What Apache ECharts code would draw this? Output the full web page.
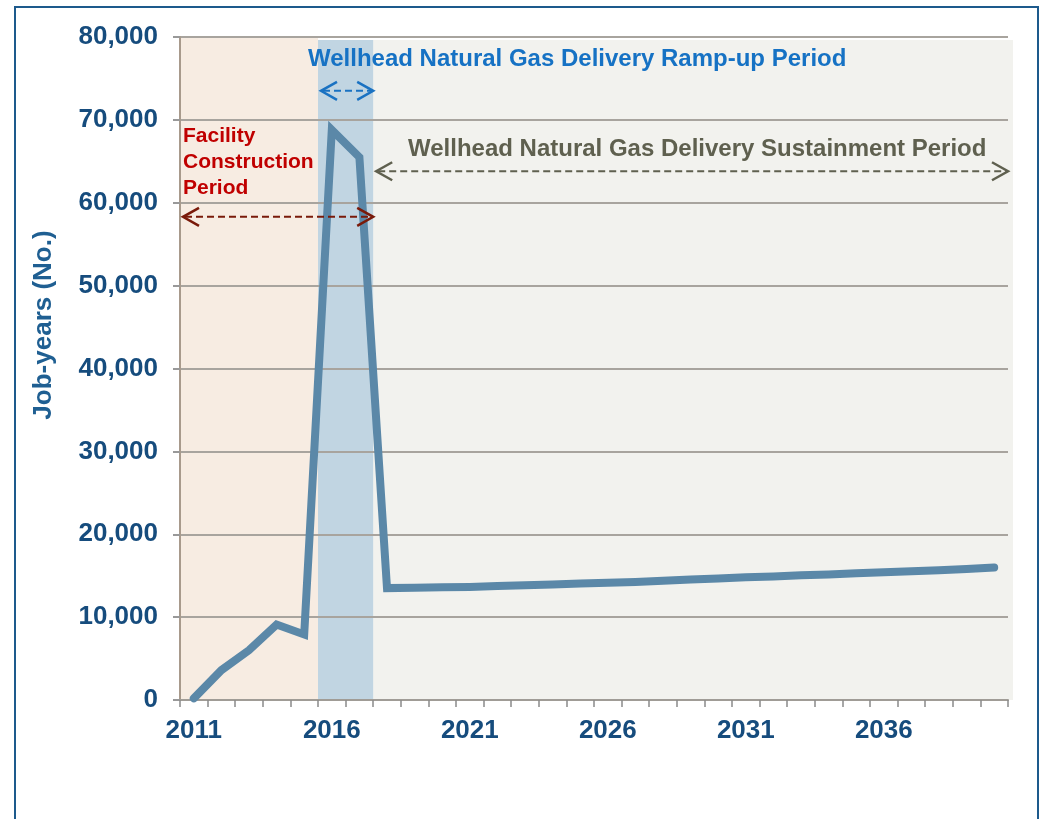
<!DOCTYPE html>
<html><head><meta charset="utf-8">
<script src="https://cdn.jsdelivr.net/npm/echarts@6/dist/echarts.min.js"></script>
<style>
html,body{margin:0;padding:0;background:#fff;}
#frame{position:absolute;left:14px;top:6px;width:1025px;height:840px;border:2px solid #1d5a8c;box-sizing:border-box;}
#chart{position:absolute;left:0;top:0;width:1040px;height:819px;}
</style>
</head><body>
<div id="frame"></div>
<div id="chart"></div>
<script>
const years = ['2011','2012','2013','2014','2015','2016','2017','2018','2019','2020',
  '2021','2022','2023','2024','2025','2026','2027','2028','2029','2030',
  '2031','2032','2033','2034','2035','2036','2037','2038','2039','2040'];
const jobYears = [200, 3600, 6000, 9100, 7900, 68800, 65500, 13500, 13550, 13600,
  13650, 13750, 13850, 13950, 14050, 14150, 14250, 14400, 14550, 14650,
  14800, 14900, 15050, 15150, 15300, 15400, 15550, 15650, 15800, 16000];
const yTicks = [0, 10000, 20000, 30000, 40000, 50000, 60000, 70000, 80000];
// periods: [first year, last year]
const periodStart = ['2011', '2016', '2018'];
const periodEnd = ['2015', '2017', '2040'];
// arrows: [from year (left edge), to year (right edge), y level]
const arrowFrom = ['2011', '2016', '2018'];
const arrowTo = ['2017', '2017', '2040'];
const arrowLevel = [58300, 73500, 63800];

const bandColors = ['#f7ece2', 'rgba(160,190,210,0.65)', '#f2f2ee'];
const arrowColors = ['#7a1a0a', '#1a72c2', '#5f604f'];

const chart = echarts.init(document.getElementById('chart'), null, {renderer: 'canvas'});
const labelColor = '#164c7d';
const FONT = 'Liberation Sans, Arial, sans-serif';

const bandData = periodStart.map((s, i) => [years.indexOf(s), years.indexOf(periodEnd[i])]);
const arrowData = arrowFrom.map((s, i) => [years.indexOf(s), years.indexOf(arrowTo[i]), arrowLevel[i]]);

function chevron(x, y, dir, color) {
  const L = 16, H = 9;
  return {
    type: 'polyline',
    shape: {points: [[x + dir * L, y - H], [x, y], [x + dir * L, y + H]]},
    style: {stroke: color, lineWidth: 2.5, fill: null}
  };
}

const option = {
  animation: false,
  grid: {left: 180, right: 32, top: 37, bottom: 119},
  xAxis: {
    type: 'category',
    data: years,
    boundaryGap: true,
    z: 2,
    axisLine: {show: true, lineStyle: {color: '#a09c96', width: 2}},
    axisTick: {show: true, alignWithLabel: false, interval: 0, length: 7, lineStyle: {color: '#8a8a8a', width: 1.5}},
    axisLabel: {
      interval: 4, margin: 18,
      color: labelColor, fontSize: 26, fontWeight: 'bold', fontFamily: FONT
    },
    splitLine: {show: false}
  },
  yAxis: {
    type: 'value',
    min: 0, max: 80000, interval: 10000,
    z: 2,
    axisLine: {show: true, lineStyle: {color: '#a89a8c', width: 2}},
    axisTick: {show: true, length: 7, lineStyle: {color: '#999', width: 2}},
    axisLabel: {
      margin: 22,
      color: labelColor, fontSize: 26, fontWeight: 'bold', fontFamily: FONT,
      formatter: v => yTicks.includes(v) ? v.toLocaleString('en-US') : ''
    },
    splitLine: {show: true, lineStyle: {color: '#a8a49e', width: 2}}
  },
  series: [
    {
      type: 'custom',
      z: 1,
      silent: true,
      data: bandData,
      renderItem: function (params, api) {
        const bw = api.size([1, 0])[0];
        const p1 = api.coord([api.value(0), 80000]);
        const p2 = api.coord([api.value(1), 0]);
        const x1 = p1[0] - bw / 2;
        let x2 = p2[0] + bw / 2;
        const top = params.dataIndex === 0 ? p1[1] : p1[1] + 3;
        if (params.dataIndex === 2) x2 += 5;
        return {
          type: 'rect',
          shape: {x: x1, y: top, width: x2 - x1, height: p2[1] - top},
          style: {fill: bandColors[params.dataIndex]},
          z2: params.dataIndex === 1 ? 5 : 0
        };
      }
    },
    {
      type: 'line',
      data: jobYears,
      z: 3,
      symbol: 'none',
      lineStyle: {color: '#5b88a8', width: 8, cap: 'round', join: 'miter'}
    },
    {
      type: 'custom',
      z: 4,
      silent: true,
      data: arrowData,
      renderItem: function (params, api) {
        const bw = api.size([1, 0])[0];
        const a = api.coord([api.value(0), api.value(2)]);
        const b = api.coord([api.value(1), api.value(2)]);
        const x1 = a[0] - bw / 2 + 3;
        const x2 = b[0] + bw / 2;
        const y = a[1];
        const c = arrowColors[params.dataIndex];
        return {
          type: 'group',
          children: [
            {type: 'line', shape: {x1: x1 + 2, y1: y, x2: x2 - 2, y2: y},
             style: {stroke: c, lineWidth: 2, lineDash: [7, 4]}},
            chevron(x1, y, 1, c),
            chevron(x2, y, -1, c)
          ]
        };
      }
    }
  ],
  graphic: [
    {type: 'text', left: 308, top: 47, z: 100,
     style: {text: 'Wellhead Natural Gas Delivery Ramp-up Period', fill: '#1672c4',
       font: 'bold 24px ' + FONT}},
    {type: 'text', left: 408, top: 137, z: 100,
     style: {text: 'Wellhead Natural Gas Delivery Sustainment Period', fill: '#5f604f',
       font: 'bold 24px ' + FONT}},
    {type: 'text', left: 183, top: 123, z: 100,
     style: {text: 'Facility\nConstruction\nPeriod', fill: '#c00000',
       font: 'bold 21px ' + FONT, lineHeight: 26}},
    {type: 'text', x: 44, y: 325, rotation: Math.PI / 2, z: 100,
     style: {text: 'Job-years (No.)', fill: '#1f5f92', font: 'bold 26px ' + FONT,
       align: 'center', verticalAlign: 'middle'}}
  ]
};
chart.setOption(option);
</script>
</body></html>
